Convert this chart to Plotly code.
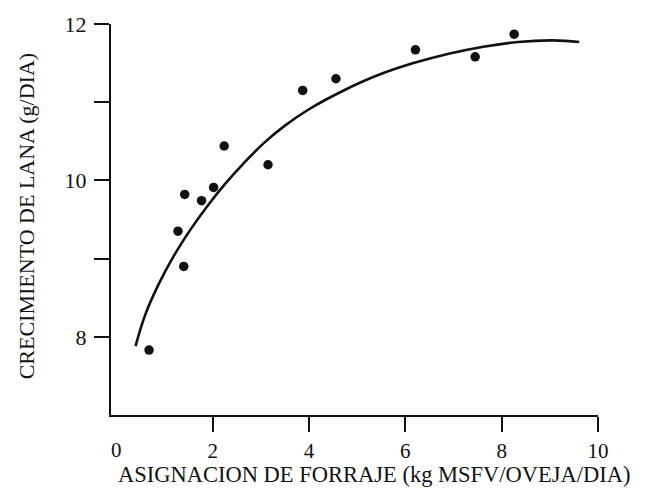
import plotly.graph_objects as go

# Observed points
obs_x = [0.68, 1.28, 1.40, 1.42, 1.77, 2.02, 2.24, 3.15, 3.87, 4.56, 6.21, 7.45, 8.26]
obs_y = [7.83, 9.35, 8.90, 9.82, 9.74, 9.91, 10.44, 10.20, 11.15, 11.30, 11.67, 11.58, 11.87]

# Fitted curve
fit_x = [0.40, 0.60, 0.87, 1.20, 1.55, 1.90, 2.25, 2.60, 3.05, 3.50, 4.00, 4.72, 5.45, 6.17, 6.90, 7.62, 8.34, 9.07, 9.61]
fit_y = [7.88, 8.28, 8.66, 9.04, 9.38, 9.68, 9.95, 10.19, 10.47, 10.70, 10.91, 11.15, 11.35, 11.50, 11.62, 11.71, 11.77, 11.79, 11.77]

x_ticks = [2, 4, 6, 8, 10]
x_ticktext = ["2", "4", "6", "8", "10"]
y_ticks = [8, 9, 10, 11, 12]
y_ticktext = ["8", "", "10", "", "12"]

x_title = "ASIGNACION DE FORRAJE (kg MSFV/OVEJA/DIA)"
y_title = "CRECIMIENTO DE LANA (g/DIA)"

FONT = "Liberation Serif, Times New Roman, serif"
INK = "#111111"

fig = go.Figure()
fig.add_trace(go.Scatter(x=fit_x, y=fit_y, mode="lines",
                         line=dict(color=INK, width=2.6, shape="spline", smoothing=1.2),
                         hoverinfo="skip", showlegend=False))
fig.add_trace(go.Scatter(x=obs_x, y=obs_y, mode="markers",
                         marker=dict(color=INK, size=9.5),
                         showlegend=False))

fig.update_layout(
    width=646, height=490,
    margin=dict(l=111, r=48, t=20, b=75),
    paper_bgcolor="white", plot_bgcolor="white",
    font=dict(family=FONT, size=21, color=INK),
    xaxis=dict(range=[-0.11, 10], tickvals=x_ticks, ticktext=x_ticktext,
               ticks="outside", ticklen=15, tickwidth=2, tickcolor=INK,
               ticklabelstandoff=1,
               showline=True, linecolor=INK, linewidth=2,
               showgrid=False, zeroline=False,
               tickfont=dict(family=FONT, size=21, color=INK)),
    yaxis=dict(range=[7, 12], tickvals=y_ticks, ticktext=y_ticktext,
               ticks="outside", ticklen=15, tickwidth=2, tickcolor=INK,
               ticklabelstandoff=3,
               showline=True, linecolor=INK, linewidth=2,
               showgrid=False, zeroline=False,
               tickfont=dict(family=FONT, size=22, color=INK)),
    annotations=[
        dict(text="0", x=0, xref="x", y=0, yref="paper", yanchor="top",
             yshift=-21, showarrow=False, font=dict(family=FONT, size=21, color=INK)),
        dict(text=x_title, x=0.542, xref="paper", y=-0.1873, yref="paper",
             xanchor="center", yanchor="bottom", borderpad=0, showarrow=False,
             font=dict(family=FONT, size=22.5, color=INK)),
        dict(text=y_title, x=-0.1717, xref="paper", y=0.509, yref="paper",
             xanchor="center", yanchor="middle", textangle=-90, showarrow=False,
             font=dict(family=FONT, size=22, color=INK)),
    ],
)

fig.write_html("out.html",
               config={"displayModeBar": False},
               post_script="document.body.style.margin='0';document.body.style.overflow='hidden';")
